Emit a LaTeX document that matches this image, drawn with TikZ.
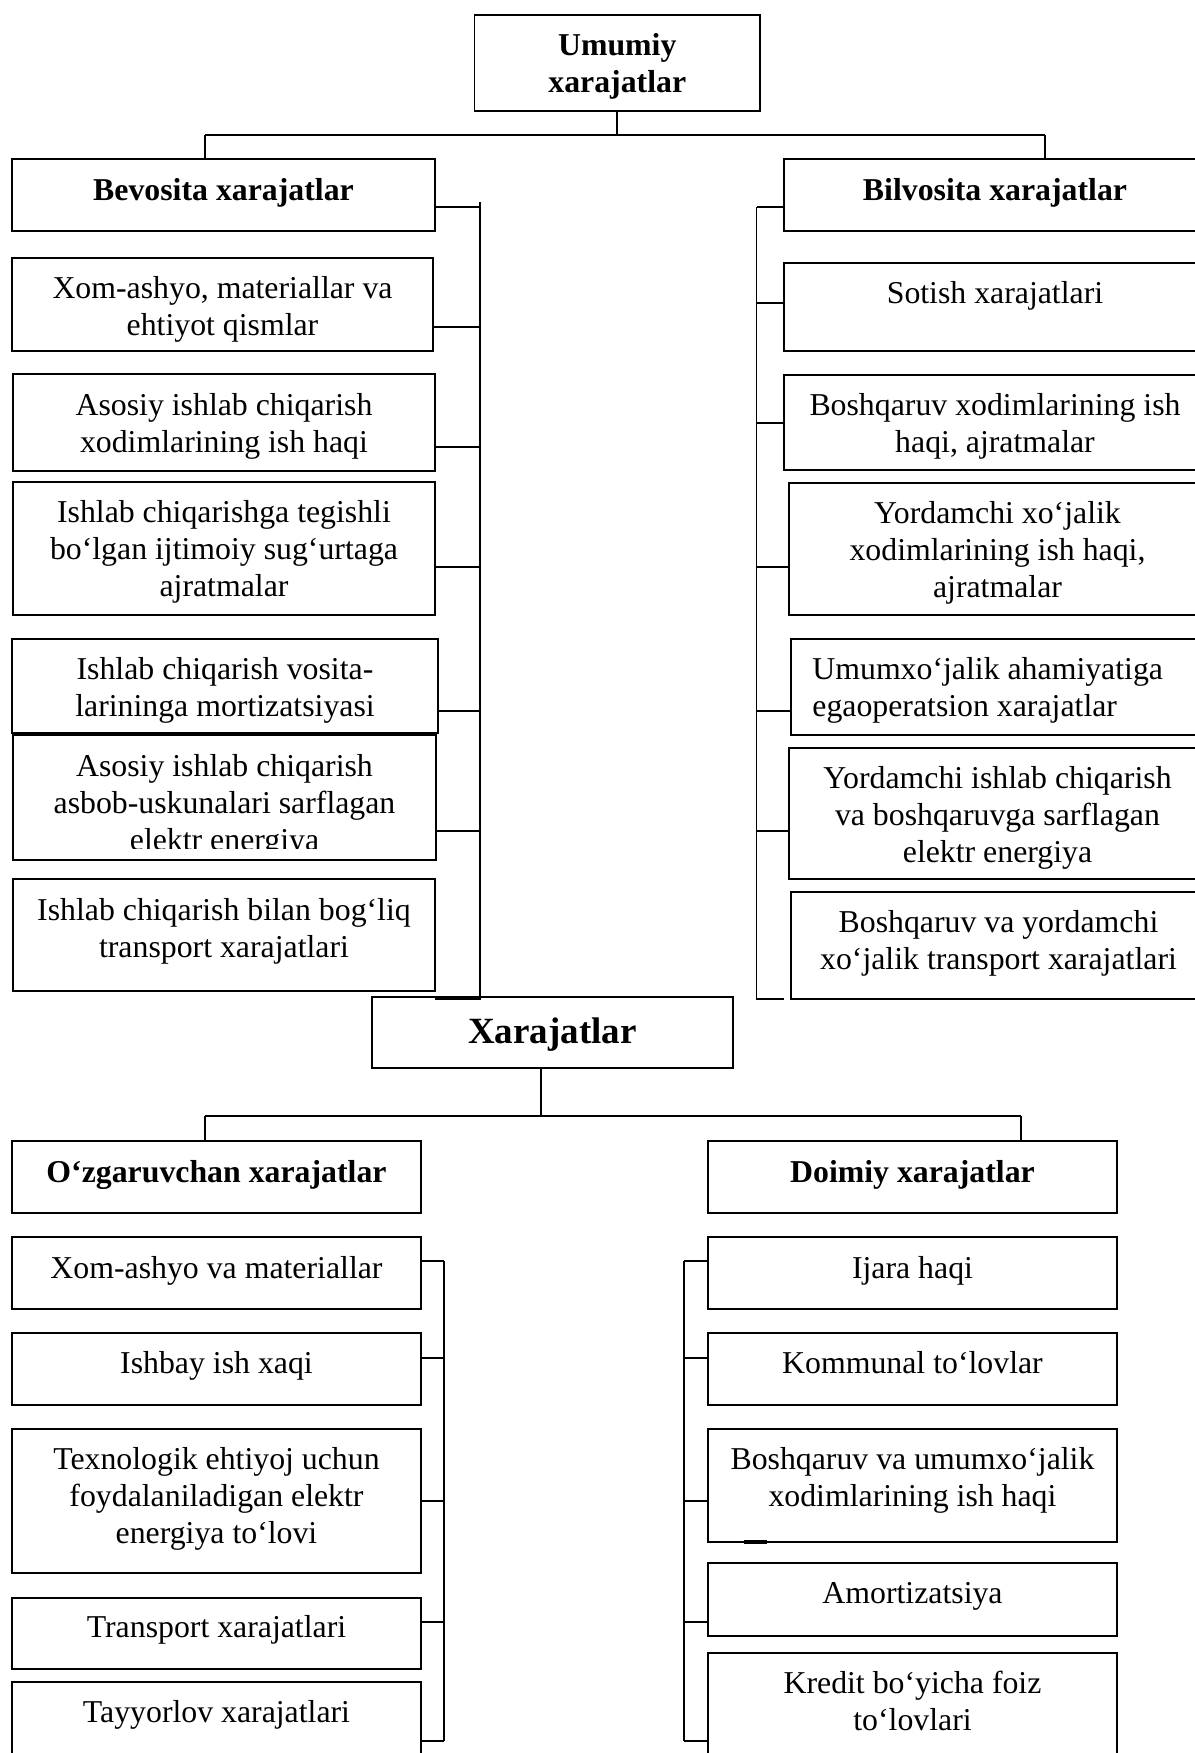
\documentclass[tikz,border=0pt]{standalone}
\usepackage{fontspec}
\setmainfont{Liberation Serif}
\usetikzlibrary{fit,calc}
\newcommand\mlines[1]{\parbox[t]{230pt}{\centering #1}}
\newcommand\llines[1]{\parbox[t]{230pt}{\raggedright #1}}
\begin{document}
\begin{tikzpicture}[x=0.5pt,y=-0.5pt,
  box/.style={draw, line width=0.9pt, inner sep=0pt, outer sep=0pt, rectangle},
  wire/.style={line width=0.9pt},
  txt/.style={anchor=base, inner sep=0pt, font=\fontsize{15.9}{18.5}\selectfont},
  ttl/.style={txt, font=\fontsize{15.9}{18.5}\selectfont\bfseries},
  big/.style={txt, font=\fontsize{18.5}{22}\selectfont\bfseries},
]
\fill[white] (0,0) rectangle (1195,1753);
\useasboundingbox (0,0) rectangle (1195,1753);

% ---------- upper tree: Umumiy xarajatlar ----------
\node[box, fit={(474.5,15) (760,111)}] (umumiy) {};
\node[ttl] (umumiyT) at ($(umumiy.north)+(0,40)$) {\mlines{Umumiy\\xarajatlar}};

% left column (direct costs)
\node[box, fit={(12,159) (435,231)}] (bev) {};
\node[ttl] (bevT) at ($(bev.north)+(0,41)$) {Bevosita xarajatlar};
\node[box, fit={(12,258) (433,351)}] (l1) {};
\node[txt] (l1T) at ($(l1.north)+(0,40)$) {\mlines{Xom-ashyo, materiallar va\\ehtiyot qismlar}};
\node[box, fit={(13,374) (435,471)}] (l2) {};
\node[txt] (l2T) at ($(l2.north)+(0,41)$) {\mlines{Asosiy ishlab chiqarish\\xodimlarining ish haqi}};
\node[box, fit={(13,482) (435,615)}] (l3) {};
\node[txt] (l3T) at ($(l3.north)+(0,40)$) {\mlines{Ishlab chiqarishga tegishli\\bo‘lgan ijtimoiy sug‘urtaga\\ajratmalar}};
\node[box, fit={(12,639) (438,733)}] (l4) {};
\node[txt] (l4T) at ($(l4.north)+(0,40)$) {\mlines{Ishlab chiqarish vosita-\\larininga mortizatsiyasi}};
\node[box, fit={(13,735) (436,860)}] (l5) {};
\begin{scope}
  \clip (13,735) rectangle (436,848);
  \node[txt] (l5T) at ($(l5.north)+(0,41)$) {\mlines{Asosiy ishlab chiqarish\\asbob-uskunalari sarflagan\\elektr energiya}};
\end{scope}
\node[box, fit={(13,879) (435,991)}] (l6) {};
\node[txt] (l6T) at ($(l6.north)+(0,41)$) {\mlines{Ishlab chiqarish bilan bog‘liq\\transport xarajatlari}};

% right column (indirect costs)
\node[box, fit={(784,159) (1206,231)}] (bil) {};
\node[ttl] (bilT) at ($(bil.north)+(0,41)$) {Bilvosita xarajatlar};
\node[box, fit={(784,263) (1206,351)}] (r1) {};
\node[txt] (r1T) at ($(r1.north)+(0,40)$) {Sotish xarajatlari};
\node[box, fit={(784,375) (1206,470)}] (r2) {};
\node[txt] (r2T) at ($(r2.north)+(0,40)$) {\mlines{Boshqaruv xodimlarining ish\\haqi, ajratmalar}};
\node[box, fit={(789,483) (1206,615)}] (r3) {};
\node[txt] (r3T) at ($(r3.north)+(0,40)$) {\mlines{Yordamchi xo‘jalik\\xodimlarining ish haqi,\\ajratmalar}};
\node[box, fit={(791,639) (1206,735)}] (r4) {};
\node[txt, anchor=base west] (r4T) at ($(r4.north west)+(21,40)$) {\llines{Umumxo‘jalik ahamiyatiga\\egaoperatsion xarajatlar}};
\node[box, fit={(789,748) (1206,879)}] (r5) {};
\node[txt] (r5T) at ($(r5.north)+(0,40)$) {\mlines{Yordamchi ishlab chiqarish\\va boshqaruvga sarflagan\\elektr energiya}};
\node[box, fit={(791,892) (1206,999)}] (r6) {};
\node[txt] (r6T) at ($(r6.north)+(0,40)$) {\mlines{Boshqaruv va yordamchi\\xo‘jalik transport xarajatlari}};

% top fork
\coordinate (tl) at (205,135);
\coordinate (tr) at (1045,135);
\draw[wire] (umumiy.south) -- (umumiy.south |- tl);
\draw[wire] (tl) -- (tr);
\draw[wire] (tl) -- (tl |- bev.north);
\draw[wire] (tr) -- (tr |- bil.north);

% left bracket
\coordinate (lbar) at (480,202);
\coordinate (lfoot) at (480,999);
\draw[wire] (lbar) -- (lfoot) -- (lfoot -| l6.east);
\draw[wire] (bev.east |- 0,207) -- (lbar |- 0,207);
\draw[wire] (l1.east |- 0,327) -- (lbar |- 0,327);
\draw[wire] (l2.east |- 0,447) -- (lbar |- 0,447);
\draw[wire] (l3.east |- 0,567) -- (lbar |- 0,567);
\draw[wire] (l4.east |- 0,711) -- (lbar |- 0,711);
\draw[wire] (l5.east |- 0,831) -- (lbar |- 0,831);

% right bracket
\coordinate (rbar) at (756.5,207);
\coordinate (rfoot) at (756.5,999);
\draw[wire] (rbar) -- (rfoot) -- (rfoot -| bil.west);
\draw[wire] (bil.west |- rbar) -- (rbar);
\draw[wire] (r1.west |- 0,303) -- (rbar |- 0,303);
\draw[wire] (r2.west |- 0,423) -- (rbar |- 0,423);
\draw[wire] (r3.west |- 0,567) -- (rbar |- 0,567);
\draw[wire] (r4.west |- 0,711) -- (rbar |- 0,711);
\draw[wire] (r5.west |- 0,831) -- (rbar |- 0,831);

% ---------- lower tree: Xarajatlar ----------
\node[box, fit={(372,997) (733,1068)}] (xar) {};
\node[big] (xarT) at ($(xar.north)+(0,46)$) {Xarajatlar};

\node[box, fit={(12,1141) (421,1213)}] (ozg) {};
\node[ttl] (ozgT) at ($(ozg.north)+(0,41)$) {O‘zgaruvchan xarajatlar};
\node[box, fit={(12,1237) (421,1309)}] (v1) {};
\node[txt] (v1T) at ($(v1.north)+(0,41)$) {Xom-ashyo va materiallar};
\node[box, fit={(12,1333) (421,1405)}] (v2) {};
\node[txt] (v2T) at ($(v2.north)+(0,40)$) {Ishbay ish xaqi};
\node[box, fit={(12,1429) (421,1573)}] (v3) {};
\node[txt] (v3T) at ($(v3.north)+(0,40)$) {\mlines{Texnologik ehtiyoj uchun\\foydalaniladigan elektr\\energiya to‘lovi}};
\node[box, fit={(12,1598) (421,1669)}] (v4) {};
\node[txt] (v4T) at ($(v4.north)+(0,39)$) {Transport xarajatlari};
\node[box, fit={(12,1682) (421,1790)}] (v5) {};
\node[txt] (v5T) at ($(v5.north)+(0,40)$) {Tayyorlov xarajatlari};

\node[box, fit={(708,1141) (1117,1213)}] (doi) {};
\node[ttl] (doiT) at ($(doi.north)+(0,41)$) {Doimiy xarajatlar};
\node[box, fit={(708,1237) (1117,1309)}] (f1) {};
\node[txt] (f1T) at ($(f1.north)+(0,41)$) {Ijara haqi};
\node[box, fit={(708,1333) (1117,1405)}] (f2) {};
\node[txt] (f2T) at ($(f2.north)+(0,40)$) {Kommunal to‘lovlar};
\node[box, fit={(708,1429) (1117,1542)}] (f3) {};
\node[txt] (f3T) at ($(f3.north)+(0,40)$) {\mlines{Boshqaruv va umumxo‘jalik\\xodimlarining ish haqi}};
\node[box, fit={(708,1563) (1117,1636)}] (f4) {};
\node[txt] (f4T) at ($(f4.north)+(0,40)$) {Amortizatsiya};
\node[box, fit={(708,1653) (1117,1790)}] (f5) {};
\node[txt] (f5T) at ($(f5.north)+(0,40)$) {\mlines{Kredit bo‘yicha foiz\\to‘lovlari}};

% short heavy stroke under the salary box
\draw[line width=1.6pt] ($(f3.south west)+(35.5,0)$) -- ++(23.5,0);

% lower fork
\coordinate (bl) at (205,1116);
\coordinate (br) at (1021,1116);
\draw[wire] (xar.south -| 541,0) -- (bl -| 541,0);
\draw[wire] (bl) -- (br);
\draw[wire] (bl) -- (bl |- ozg.north);
\draw[wire] (br) -- (br |- doi.north);

% lower left bracket
\coordinate (vbar) at (444,1261);
\coordinate (vend) at (444,1741);
\draw[wire] (vbar) -- (vend);
\draw[wire] (v1.east |- vbar) -- (vbar);
\draw[wire] (v2.east |- 0,1358) -- (vbar |- 0,1358);
\draw[wire] (v3.east |- 0,1501) -- (vbar |- 0,1501);
\draw[wire] (v4.east |- 0,1622) -- (vbar |- 0,1622);
\draw[wire] (v5.east |- vend) -- (vend);

% lower right bracket
\coordinate (fbar) at (684,1261);
\coordinate (fend) at (684,1741);
\draw[wire] (fbar) -- (fend);
\draw[wire] (f1.west |- fbar) -- (fbar);
\draw[wire] (f2.west |- 0,1358) -- (fbar |- 0,1358);
\draw[wire] (f3.west |- 0,1501) -- (fbar |- 0,1501);
\draw[wire] (f4.west |- 0,1622) -- (fbar |- 0,1622);
\draw[wire] (f5.west |- fend) -- (fend);
\end{tikzpicture}
\end{document}
